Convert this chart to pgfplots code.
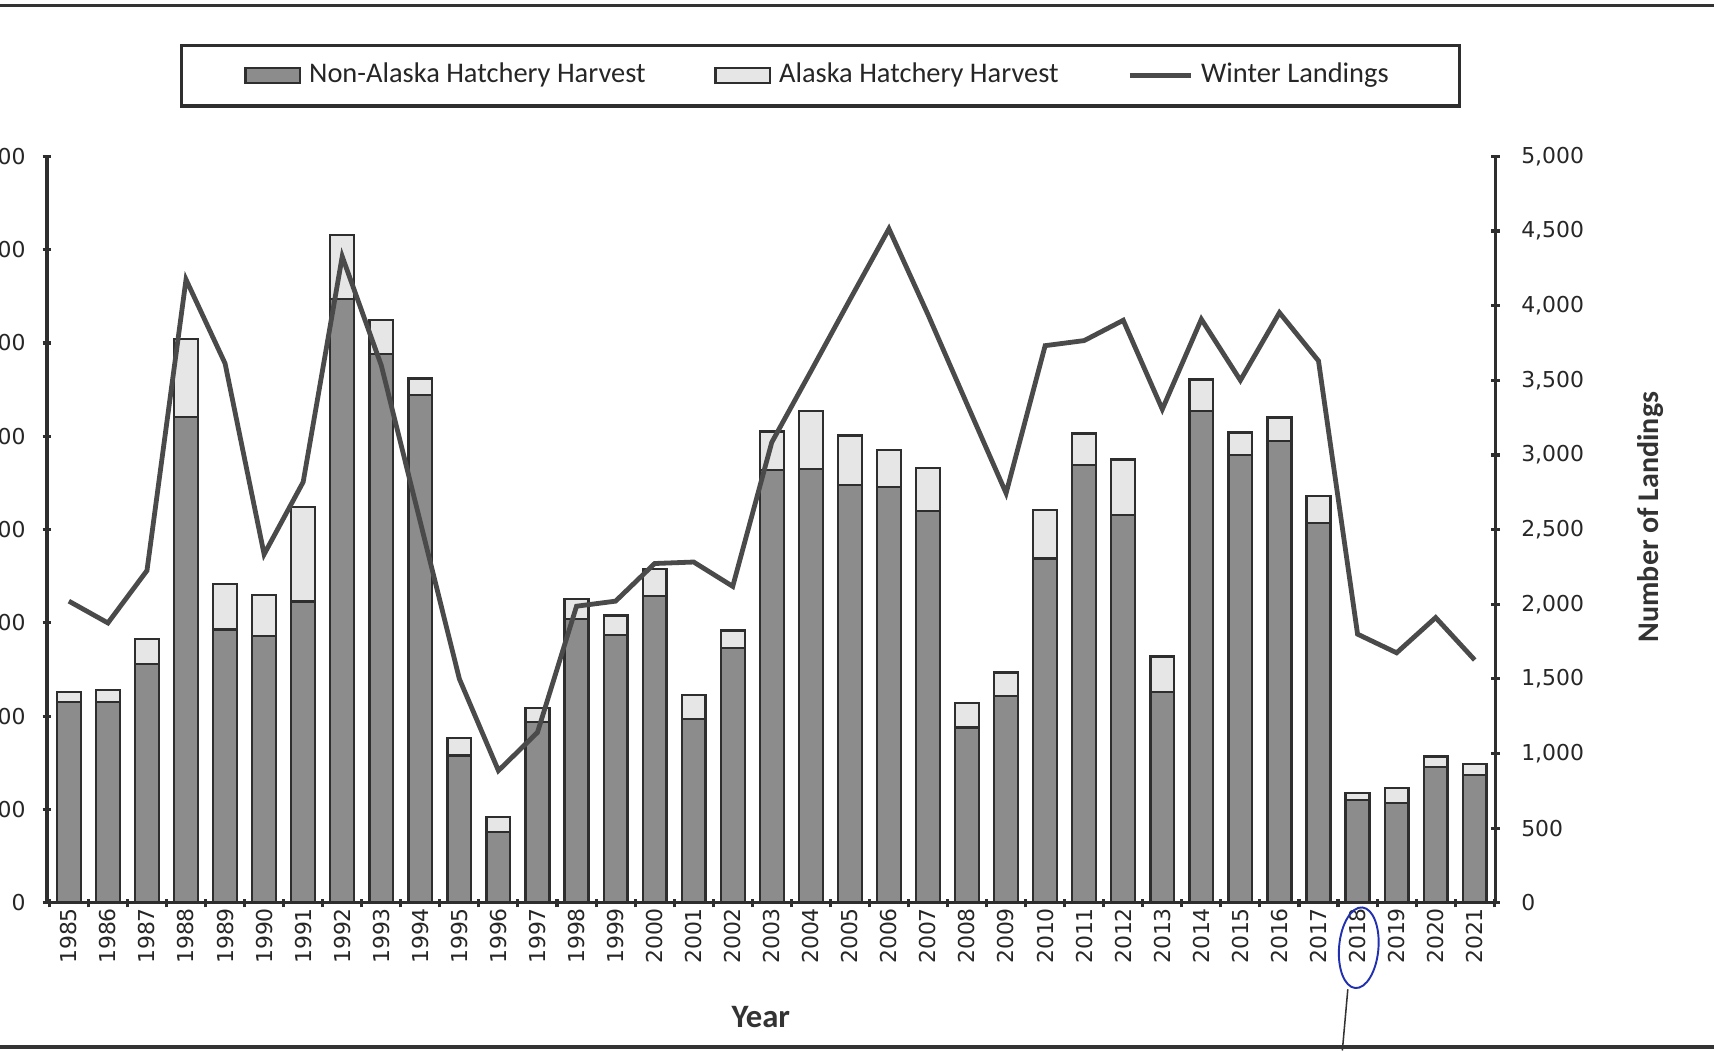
\documentclass[border=0pt]{standalone}
\usepackage{fontspec}
\usepackage{pgfplots}
\usepackage{pgfplotstable}
\pgfplotsset{compat=1.18}
\newfontfamily\dejavu{DejaVu Sans}
\newfontfamily\carlito{Carlito}
\definecolor{darkbar}{HTML}{8C8C8C}
\definecolor{lightbar}{HTML}{E6E6E6}
\definecolor{edge}{HTML}{2E2E2E}
\definecolor{landline}{HTML}{4A4A4A}
\definecolor{pen}{HTML}{2030B0}
\pgfplotstableread{
year dark ak land
1985 215 11 2021
1986 215 13 1875
1987 256 27 2226
1988 521 83 4175
1989 293 49 3613
1990 286 44 2335
1991 323 101 2819
1992 647 69 4329
1993 588 37 3600
1994 544 18 2550
1995 158 19 1500
1996 76 16 886
1997 194 15 1142
1998 304 22 1987
1999 287 21 2021
2000 329 29 2273
2001 197 26 2283
2002 273 19 2120
2003 464 41 3085
2004 465 62 3560
2005 448 53 4040
2006 446 39 4515
2007 420 46 3940
2008 188 26 3340
2009 222 25 2744
2010 369 52 3732
2011 469 34 3766
2012 416 59 3902
2013 226 38 3306
2014 527 34 3909
2015 480 24 3500
2016 495 25 3953
2017 407 29 3630
2018 110 8 1800
2019 107 16 1675
2020 146 11 1911
2021 137 12 1627
}\data
\begin{document}
\begin{tikzpicture}
\pgfplotsset{
  common/.style={
    at={(0,0)}, anchor=south west,
    scale only axis, width=132.5mm, height=68.3mm,
    xmin=1984.44, xmax=2021.53,
    tick align=outside, major tick length=0.8mm,
    tick label style={font=\dejavu\fontsize{5.7}{6}\selectfont, text=black!85},
    /pgf/number format/assume math mode=true,
  },
  noarrows/.style={
    axis line style={-, draw=edge, line width=0.8pt},
    every outer x axis line/.append style={-},
    every outer y axis line/.append style={-},
    every inner x axis line/.append style={-},
    every inner y axis line/.append style={-},
    x axis line style={-},
    y axis line style={-},
  }
}
\begin{axis}[common,
  ymin=0, ymax=800,
  axis x line=bottom, axis y line=left, noarrows,
  ybar stacked, bar width=0.61,
  xtick={1985,...,2021},
  xtick style={draw=none},
  ytick={0,100,...,800},
  ytick style={draw=edge, line width=0.8pt},
  x tick label style={rotate=90, anchor=east, inner sep=0pt, /pgf/number format/1000 sep={}},
  y tick label style={anchor=east, inner sep=0pt, xshift=-1.5mm},
]
\addplot[fill=darkbar, draw=edge, line width=0.6pt] table[x=year, y=dark]{\data};
\addplot[fill=lightbar, draw=edge, line width=0.6pt] table[x=year, y=ak]{\data};
\end{axis}
\begin{axis}[common,
  ymin=0, ymax=5000,
  axis x line=bottom, axis y line=right, noarrows,
  xtick={1984.5,1985.5,...,2021.5},
  xticklabel={\relax},
  ytick={0,500,...,5000},
  tick style={draw=edge, line width=0.8pt},
  y tick label style={anchor=west, inner sep=0pt, xshift=1.9mm},
  legend columns=3,
  legend style={at={(0.534,1.108)}, anchor=center, draw=edge, line width=0.8pt,
    font=\carlito\fontsize{7.4}{8}\selectfont, text=black!85,
    inner xsep=5.8mm, inner ysep=0.9mm,
    /tikz/every even column/.append style={column sep=5.6mm}},
]
\addlegendimage{legend image code/.code={\draw[fill=darkbar, draw=edge, line width=0.6pt] (0mm,-0.7mm) rectangle (5mm,0.7mm);}}
\addlegendentry{Non-Alaska Hatchery Harvest}
\addlegendimage{legend image code/.code={\draw[fill=lightbar, draw=edge, line width=0.6pt] (0mm,-0.7mm) rectangle (5mm,0.7mm);}}
\addlegendentry{Alaska Hatchery Harvest}
\addplot[color=landline, line width=1.25pt, sharp plot, mark=none,
  legend image code/.code={\draw[landline, line width=1.25pt] (0mm,0mm) -- (5.6mm,0mm);}]
  table[x=year, y=land]{\data};
\addlegendentry{Winter Landings}
\end{axis}
\node[rotate=90, font=\carlito\bfseries\fontsize{7.8}{9}\selectfont, text=black!80] at (146.7mm,35.3mm) {Number of Landings};
\node[font=\carlito\bfseries\fontsize{8.5}{10}\selectfont, text=black!80] at (65.3mm,-10.4mm) {Year};
\draw[black!80, line width=1pt] (-4.3mm,82.1mm) -- (152.5mm,82.1mm);
\draw[black!80, line width=1pt] (-4.3mm,-13.2mm) -- (152.5mm,-13.2mm);
\draw[pen, line width=0.5pt, rotate around={-5:(120mm,-4.1mm)}] (120mm,-4.1mm) ellipse (1.8mm and 3.7mm);
\draw[black!80, line width=0.4pt] (119.0mm,-7.9mm) -- (118.5mm,-13.5mm);
\pgfresetboundingbox
\useasboundingbox (-4.3mm,-13.5mm) rectangle (152.5mm,82.6mm);
\end{tikzpicture}
\end{document}
